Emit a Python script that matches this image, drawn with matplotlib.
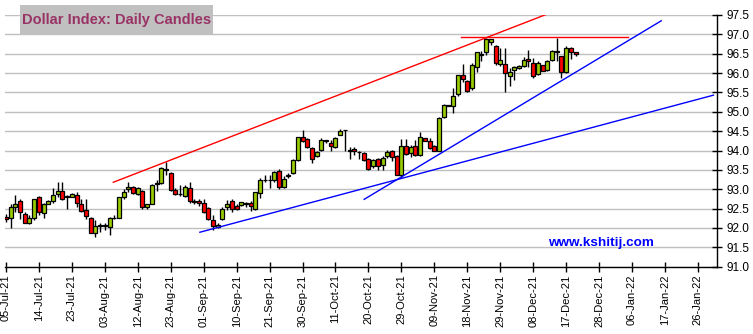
import matplotlib
matplotlib.use("Agg")
import matplotlib.pyplot as plt
from matplotlib.patches import Rectangle
import numpy as np
import pandas as pd

plt.rcParams['font.family'] = ['Liberation Sans', 'DejaVu Sans']

# daily OHLC, one row per business day from 05-Jul-21
opens = [92.28, 92.25, 92.53, 92.69, 92.35, 92.14, 92.25, 92.79, 92.39, 92.62,
         92.70, 92.89, 92.95, 92.81, 92.81, 92.86, 92.61, 92.46, 92.25, 91.86,
         92.06, 92.06, 92.03, 92.26, 92.27, 92.79, 93.00, 93.05, 92.89, 92.95,
         92.53, 92.63, 93.14, 93.15, 93.52, 93.43, 92.98, 92.88, 92.83, 93.02,
         92.69, 92.70, 92.65, 92.51, 92.20, 92.02, 92.22, 92.55, 92.69, 92.56,
         92.59, 92.63, 92.65, 92.48, 92.90, 93.24, 93.25, 93.23, 93.48, 93.07,
         93.35, 93.42, 93.75, 94.34, 94.30, 94.06, 93.85, 94.02, 94.25, 94.19,
         94.09, 94.39, 94.52, 94.02, 94.05, 93.96, 93.93, 93.78, 93.59, 93.78,
         93.63, 93.85, 93.98, 93.87, 93.38, 94.11, 93.93, 94.11, 93.89, 94.32,
         94.24, 94.11, 94.00, 94.86, 95.16, 95.14, 95.46, 95.94, 95.80, 95.61,
         96.15, 96.47, 96.54, 96.81, 96.71, 96.24, 96.23, 95.93, 96.08, 96.12,
         96.19, 96.36, 96.25, 95.98, 96.21, 96.08, 96.34, 96.55, 96.44, 96.04,
         96.64, 96.54]
highs = [92.35, 92.63, 92.85, 92.76, 92.42, 92.33, 92.75, 92.82, 92.65, 92.72,
         93.02, 93.18, 93.18, 92.85, 92.90, 92.94, 92.74, 92.74, 92.29, 92.20,
         92.14, 92.13, 92.29, 92.33, 92.79, 93.00, 93.18, 93.08, 93.06, 92.97,
         92.63, 93.13, 93.24, 93.58, 93.71, 93.45, 93.02, 93.10, 93.11, 93.20,
         92.75, 92.75, 92.76, 92.53, 92.33, 92.12, 92.53, 92.72, 92.74, 92.63,
         92.68, 92.68, 92.69, 92.93, 93.29, 93.38, 93.38, 93.48, 93.52, 93.33,
         93.42, 93.78, 94.36, 94.52, 94.32, 94.09, 94.00, 94.32, 94.28, 94.26,
         94.36, 94.55, 94.54, 94.09, 94.08, 93.98, 93.95, 93.81, 93.78, 93.81,
         93.85, 94.02, 94.02, 93.89, 94.30, 94.30, 94.15, 94.28, 94.49, 94.32,
         94.32, 94.15, 94.86, 95.21, 95.18, 95.61, 95.96, 96.24, 95.83, 96.25,
         96.55, 96.57, 96.91, 96.88, 96.73, 96.64, 96.64, 96.12, 96.18, 96.20,
         96.42, 96.60, 96.38, 96.31, 96.22, 96.34, 96.60, 96.91, 96.44, 96.70,
         96.68, 96.54]
lows = [92.16, 92.00, 92.42, 92.23, 92.12, 92.10, 92.20, 92.33, 92.27, 92.61,
        92.65, 92.79, 92.72, 92.50, 92.80, 92.53, 92.42, 92.23, 91.86, 91.77,
        91.90, 91.94, 91.83, 92.22, 92.27, 92.75, 92.94, 92.87, 92.85, 92.48,
        92.48, 92.61, 92.96, 93.13, 93.37, 92.95, 92.85, 92.83, 92.80, 92.65,
        92.63, 92.56, 92.38, 92.20, 91.96, 91.99, 92.20, 92.46, 92.42, 92.46,
        92.56, 92.55, 92.43, 92.46, 92.77, 93.20, 93.03, 93.20, 93.00, 93.03,
        93.29, 93.40, 93.72, 94.22, 94.06, 93.68, 93.83, 94.00, 94.19, 93.98,
        94.06, 94.39, 94.00, 93.78, 93.89, 93.78, 93.72, 93.50, 93.55, 93.50,
        93.50, 93.80, 93.74, 93.38, 93.29, 93.89, 93.83, 93.85, 93.85, 94.24,
        94.05, 93.98, 93.98, 94.84, 95.14, 94.98, 95.41, 95.78, 95.52, 95.57,
        96.04, 96.31, 96.47, 96.73, 96.21, 96.18, 95.52, 95.67, 95.82, 96.10,
        96.17, 96.17, 95.87, 95.95, 96.05, 96.06, 96.32, 96.30, 95.87, 96.01,
        96.36, 96.44]
closes = [92.22, 92.53, 92.63, 92.42, 92.14, 92.25, 92.74, 92.42, 92.61, 92.69,
          92.86, 92.96, 92.75, 92.81, 92.87, 92.65, 92.44, 92.31, 91.86, 92.06,
          92.06, 92.07, 92.25, 92.27, 92.79, 92.92, 93.05, 92.91, 93.02, 92.53,
          92.61, 93.12, 93.15, 93.56, 93.51, 92.98, 92.88, 92.87, 93.05, 92.70,
          92.68, 92.64, 92.42, 92.22, 92.05, 92.08, 92.50, 92.63, 92.49, 92.50,
          92.66, 92.64, 92.56, 92.92, 93.23, 93.25, 93.24, 93.44, 93.05, 93.27,
          93.36, 93.76, 94.34, 94.24, 94.09, 93.78, 93.96, 94.28, 94.26, 94.12,
          94.32, 94.51, 94.52, 94.00, 93.98, 93.95, 93.75, 93.52, 93.76, 93.61,
          93.82, 93.95, 93.83, 93.38, 94.12, 93.91, 94.09, 93.89, 94.35, 94.25,
          94.06, 94.00, 94.84, 95.18, 95.17, 95.41, 95.94, 95.84, 95.54, 96.22,
          96.54, 96.48, 96.88, 96.88, 96.25, 96.34, 96.01, 96.04, 96.15, 96.18,
          96.34, 96.30, 95.93, 96.25, 96.06, 96.31, 96.57, 96.56, 96.04, 96.64,
          96.55, 96.49]

tick_dates = pd.bdate_range('2021-07-05', '2022-01-26')[::7]
tick_labels = [d.strftime('%d-%b-%y') for d in tick_dates]

# trend lines as (day index, level) end points
red_channel = ([22.8, 115.1], [93.18, 97.53])
red_top = ([96.7, 132.2], [96.92, 96.92])
blue_long = ([41.2, 150.3], [91.89, 95.43])
blue_steep = ([76.1, 139.2], [92.74, 97.35])

W, H = 753, 334
fig = plt.figure(figsize=(W / 100, H / 100), dpi=100)
ax = fig.add_axes([5 / W, 1 - 266.7 / H, 712 / W, 251.7 / H])

o = np.array(opens); h = np.array(highs); l = np.array(lows); c = np.array(closes)
x = np.arange(len(o))
up = c >= o
ax.vlines(x, l, h, color='black', lw=1.0, zorder=3)
body_lo = np.minimum(o, c)
body_h = np.maximum(np.abs(c - o), 0.004)
cols = np.where(up, '#99CC00', '#FF0000')
ax.bar(x, body_h, bottom=body_lo, width=0.85, color=cols,
       edgecolor='black', linewidth=0.9, zorder=4)

for xs, ys, col in [(red_channel[0], red_channel[1], '#FF0000'),
                    (red_top[0], red_top[1], '#FF0000'),
                    (blue_long[0], blue_long[1], '#0000FF'),
                    (blue_steep[0], blue_steep[1], '#0000FF')]:
    ax.plot(xs, ys, color=col, lw=1.0, zorder=5)

ax.set_xlim(-0.2, 151.05)
ax.set_ylim(91.0, 97.5)
ax.set_yticks(np.arange(91.0, 97.51, 0.5))
ax.set_yticklabels(['%.1f' % v for v in np.arange(91.0, 97.51, 0.5)])
ax.yaxis.tick_right()
ax.set_xticks(np.arange(0, 148, 7))
ax.set_xticklabels(tick_labels, rotation=90)
ax.tick_params(axis='x', direction='inout', length=7, width=1, labelsize=8, pad=2)
ax.tick_params(axis='y', direction='inout', length=7, width=1, labelsize=8.5, pad=3)
ax.grid(axis='y', color='#C0C0C0', lw=1.0, zorder=0)
ax.set_axisbelow(True)
for s in ['top', 'left']:
    ax.spines[s].set_visible(False)
for s in ['right', 'bottom']:
    ax.spines[s].set_linewidth(1.0)
    ax.spines[s].set_color('black')

# site name, placed in pixels from the bottom-left corner
ax.text(601, H - 242.7, 'www.kshitij.com', transform=None, fontsize=9.7,
        fontweight='bold', color='#0000FF', ha='center', va='center', zorder=6)

fig.patches.append(Rectangle((20 / W, 1 - 34.3 / H), 192.7 / W, 29.3 / H,
                             transform=fig.transFigure, facecolor='#C0C0C0',
                             edgecolor='none', zorder=6))
fig.text(22.5 / W, 1 - 19.6 / H, 'Dollar Index: Daily Candles', fontsize=10.5,
         fontweight='bold', color='#993366', ha='left', va='center', zorder=7)

fig.savefig('out.png', dpi=100)
